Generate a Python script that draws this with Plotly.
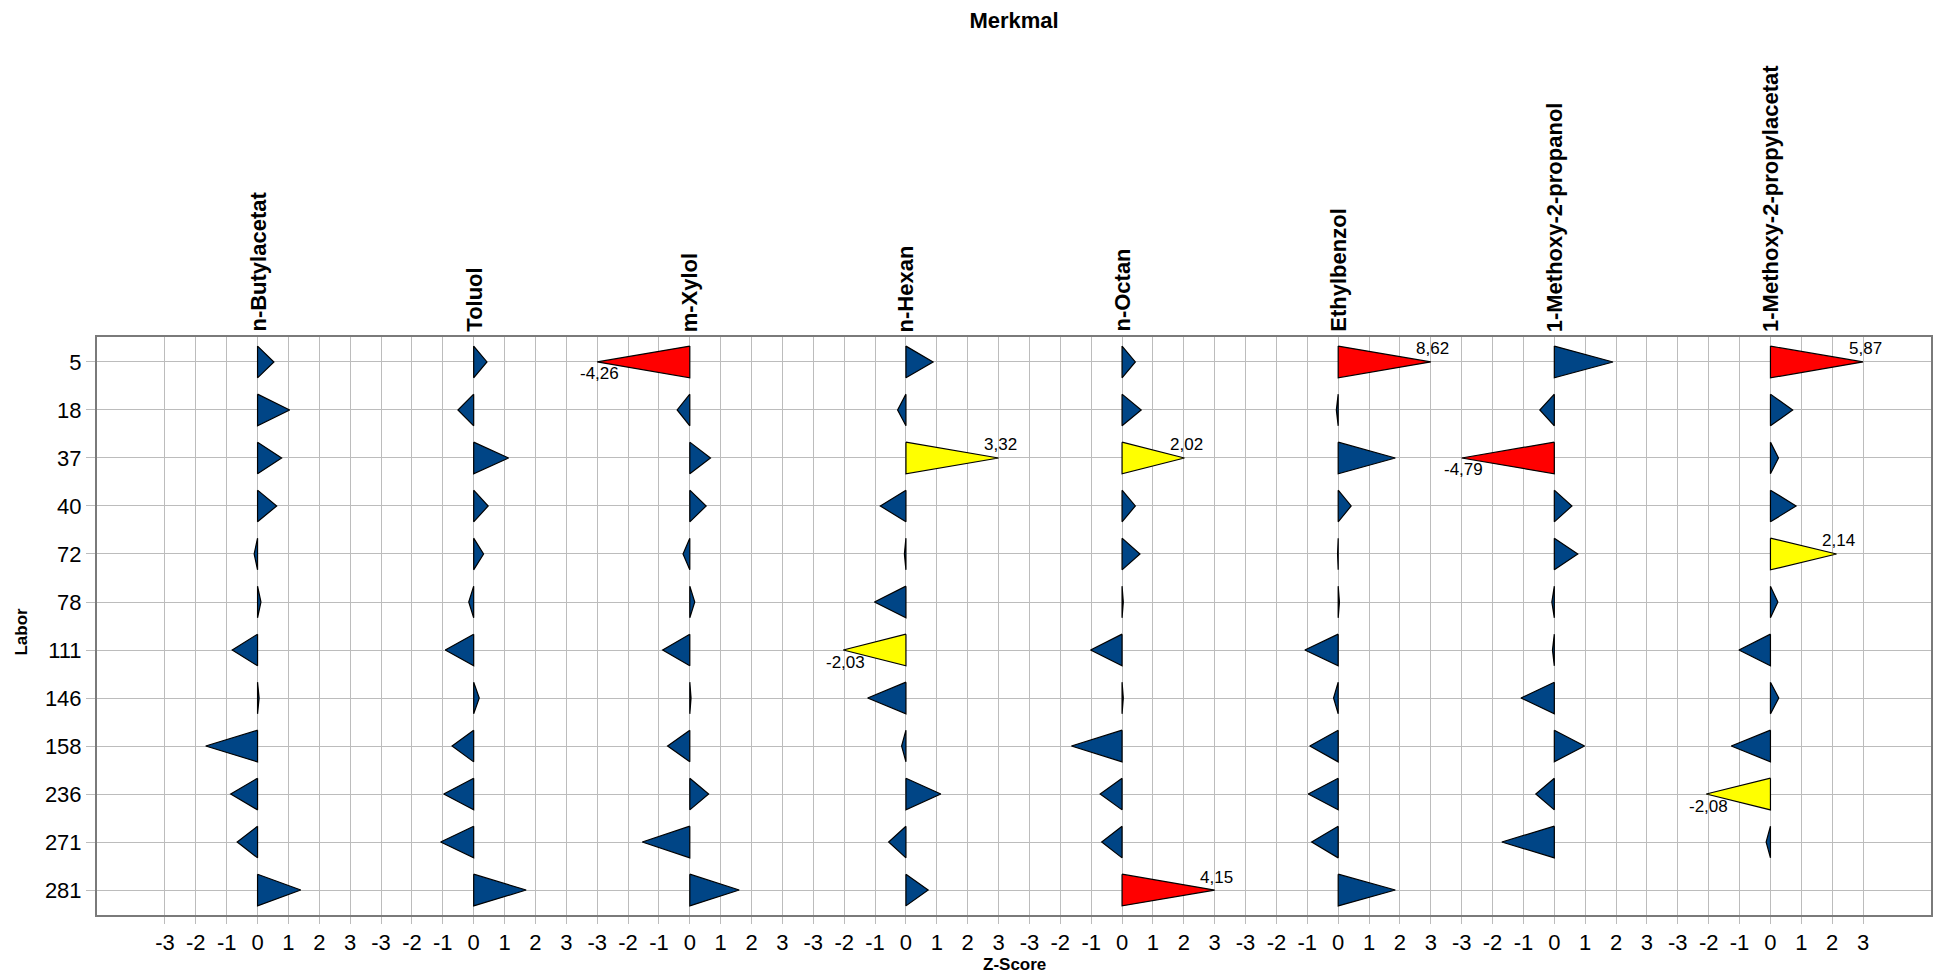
import plotly.graph_objects as go

# Laboratories (rows) and substances (panels)
labore = ["5", "18", "37", "40", "72", "78", "111", "146", "158", "236", "271", "281"]
merkmale = ["n-Butylacetat", "Toluol", "m-Xylol", "n-Hexan", "n-Octan",
            "Ethylbenzol", "1-Methoxy-2-propanol", "1-Methoxy-2-propylacetat"]

# Z-scores per substance, one value per laboratory (None = no result)
z_butylacetat = [0.53, 1.04, 0.78, 0.62, -0.11, 0.11, -0.82, 0.05, -1.68, -0.87, -0.66, 1.40]
z_toluol = [0.43, -0.51, 1.13, 0.47, 0.32, -0.16, -0.92, 0.18, -0.70, -0.97, -1.07, 1.70]
z_xylol = [-4.26, -0.41, 0.67, 0.53, -0.22, 0.16, -0.88, 0.04, -0.72, 0.61, -1.54, 1.60]
z_hexan = [0.88, -0.27, 3.32, -0.83, -0.05, -1.02, -2.03, -1.24, -0.14, 1.13, -0.56, 0.72]
z_octan = [0.43, 0.62, 2.02, 0.43, 0.58, 0.04, -1.02, 0.04, -1.64, -0.71, -0.66, 4.15]
z_ethylbenzol = [8.62, -0.06, 1.85, 0.42, -0.02, 0.04, -1.08, -0.15, -0.92, -0.97, -0.86, 1.85]
z_propanol = [1.90, -0.47, -4.79, 0.57, 0.76, -0.08, -0.06, -1.08, 0.98, -0.60, -1.70, None]
z_propylacetat = [5.87, 0.72, 0.26, 0.83, 2.14, 0.24, -1.02, 0.27, -1.27, -2.08, -0.14, None]

zscores = [z_butylacetat, z_toluol, z_xylol, z_hexan, z_octan,
           z_ethylbenzol, z_propanol, z_propylacetat]

tick_values = [-3, -2, -1, 0, 1, 2, 3]
WARN, ALARM = 2.0, 3.5
CLIP = 3.0
PANEL_STEP = 7.0
HALF_H = 0.33

BLUE, YELLOW, RED = "#004586", "#FFFF00", "#FF0000"
GRID = "#bcbcbc"
FRAME = "#7a7a7a"
FONT = "Liberation Sans, Arial, sans-serif"


def colour_for(z):
    a = abs(z)
    if a >= ALARM:
        return RED
    if a >= WARN:
        return YELLOW
    return BLUE


def fmt(z):
    return f"{z:.2f}".replace(".", ",")


polys = {BLUE: ([], []), YELLOW: ([], []), RED: ([], [])}
annotations = []

for p, series in enumerate(zscores):
    x0 = p * PANEL_STEP
    for row, z in enumerate(series):
        if z is None:
            continue
        tip = x0 + max(-CLIP, min(CLIP, z))
        xs, ys = polys[colour_for(z)]
        xs += [x0, tip, x0, x0, None]
        ys += [row - HALF_H, row, row + HALF_H, row - HALF_H, None]
        if abs(z) >= WARN:
            annotations.append(dict(
                x=tip, y=row, xref="x", yref="y", text=fmt(z), showarrow=False,
                xanchor="center", yanchor="middle", xshift=2,
                yshift=13 if z > 0 else -12,
                font=dict(family=FONT, size=17, color="black")))

fig = go.Figure()
for col, (xs, ys) in polys.items():
    fig.add_trace(go.Scatter(
        x=xs, y=ys, mode="lines", fill="toself", fillcolor=col,
        line=dict(color="black", width=1.2), hoverinfo="skip", showlegend=False))

# Substance names above each panel
for p, name in enumerate(merkmale):
    annotations.append(dict(
        x=p * PANEL_STEP, y=1, xref="x", yref="paper", text=f"<b>{name}</b>",
        textangle=-90, showarrow=False, xanchor="center", yanchor="bottom",
        yshift=3, font=dict(family=FONT, size=22, color="black")))

# Axis titles
annotations.append(dict(
    x=0.5, y=-0.085, xref="paper", yref="paper", text="<b>Z-Score</b>",
    showarrow=False, xanchor="center", yanchor="middle",
    font=dict(family=FONT, size=17, color="black")))
annotations.append(dict(
    x=-0.041, y=0.49, xref="paper", yref="paper", text="<b>Labor</b>",
    textangle=-90, showarrow=False, xanchor="center", yanchor="middle",
    font=dict(family=FONT, size=17, color="black")))

x_ticks, x_text = [], []
for p in range(len(merkmale)):
    for t in tick_values:
        x_ticks.append(p * PANEL_STEP + t)
        x_text.append(str(t))

n_panels = len(merkmale)
fig.update_layout(
    width=1939, height=976,
    margin=dict(l=97, r=6, t=337, b=61),
    paper_bgcolor="white", plot_bgcolor="white",
    title=dict(text="<b>Merkmal</b>", x=0.523, xanchor="center", y=0.979, yanchor="middle",
               font=dict(family=FONT, size=22, color="black")),
    annotations=annotations,
    font=dict(family=FONT, color="black"),
    xaxis=dict(
        range=[-5.2, (n_panels - 1) * PANEL_STEP + 5.2],
        tickmode="array", tickvals=x_ticks, ticktext=x_text,
        tickfont=dict(family=FONT, size=22, color="black"),
        showgrid=True, gridcolor=GRID, gridwidth=1,
        zeroline=False, showline=True, linecolor=FRAME, linewidth=2, mirror=True,
        ticks="outside", ticklen=7, tickcolor=GRID, tickwidth=1,
    ),
    yaxis=dict(
        range=[len(labore) - 0.48, -0.52],
        tickmode="array", tickvals=list(range(len(labore))), ticktext=labore,
        tickfont=dict(family=FONT, size=22, color="black"),
        showgrid=True, gridcolor=GRID, gridwidth=1,
        zeroline=False, showline=True, linecolor=FRAME, linewidth=2, mirror=True,
        ticks="outside", ticklen=9, tickcolor=GRID, tickwidth=1,
    ),
)

fig.write_html("out.html")
